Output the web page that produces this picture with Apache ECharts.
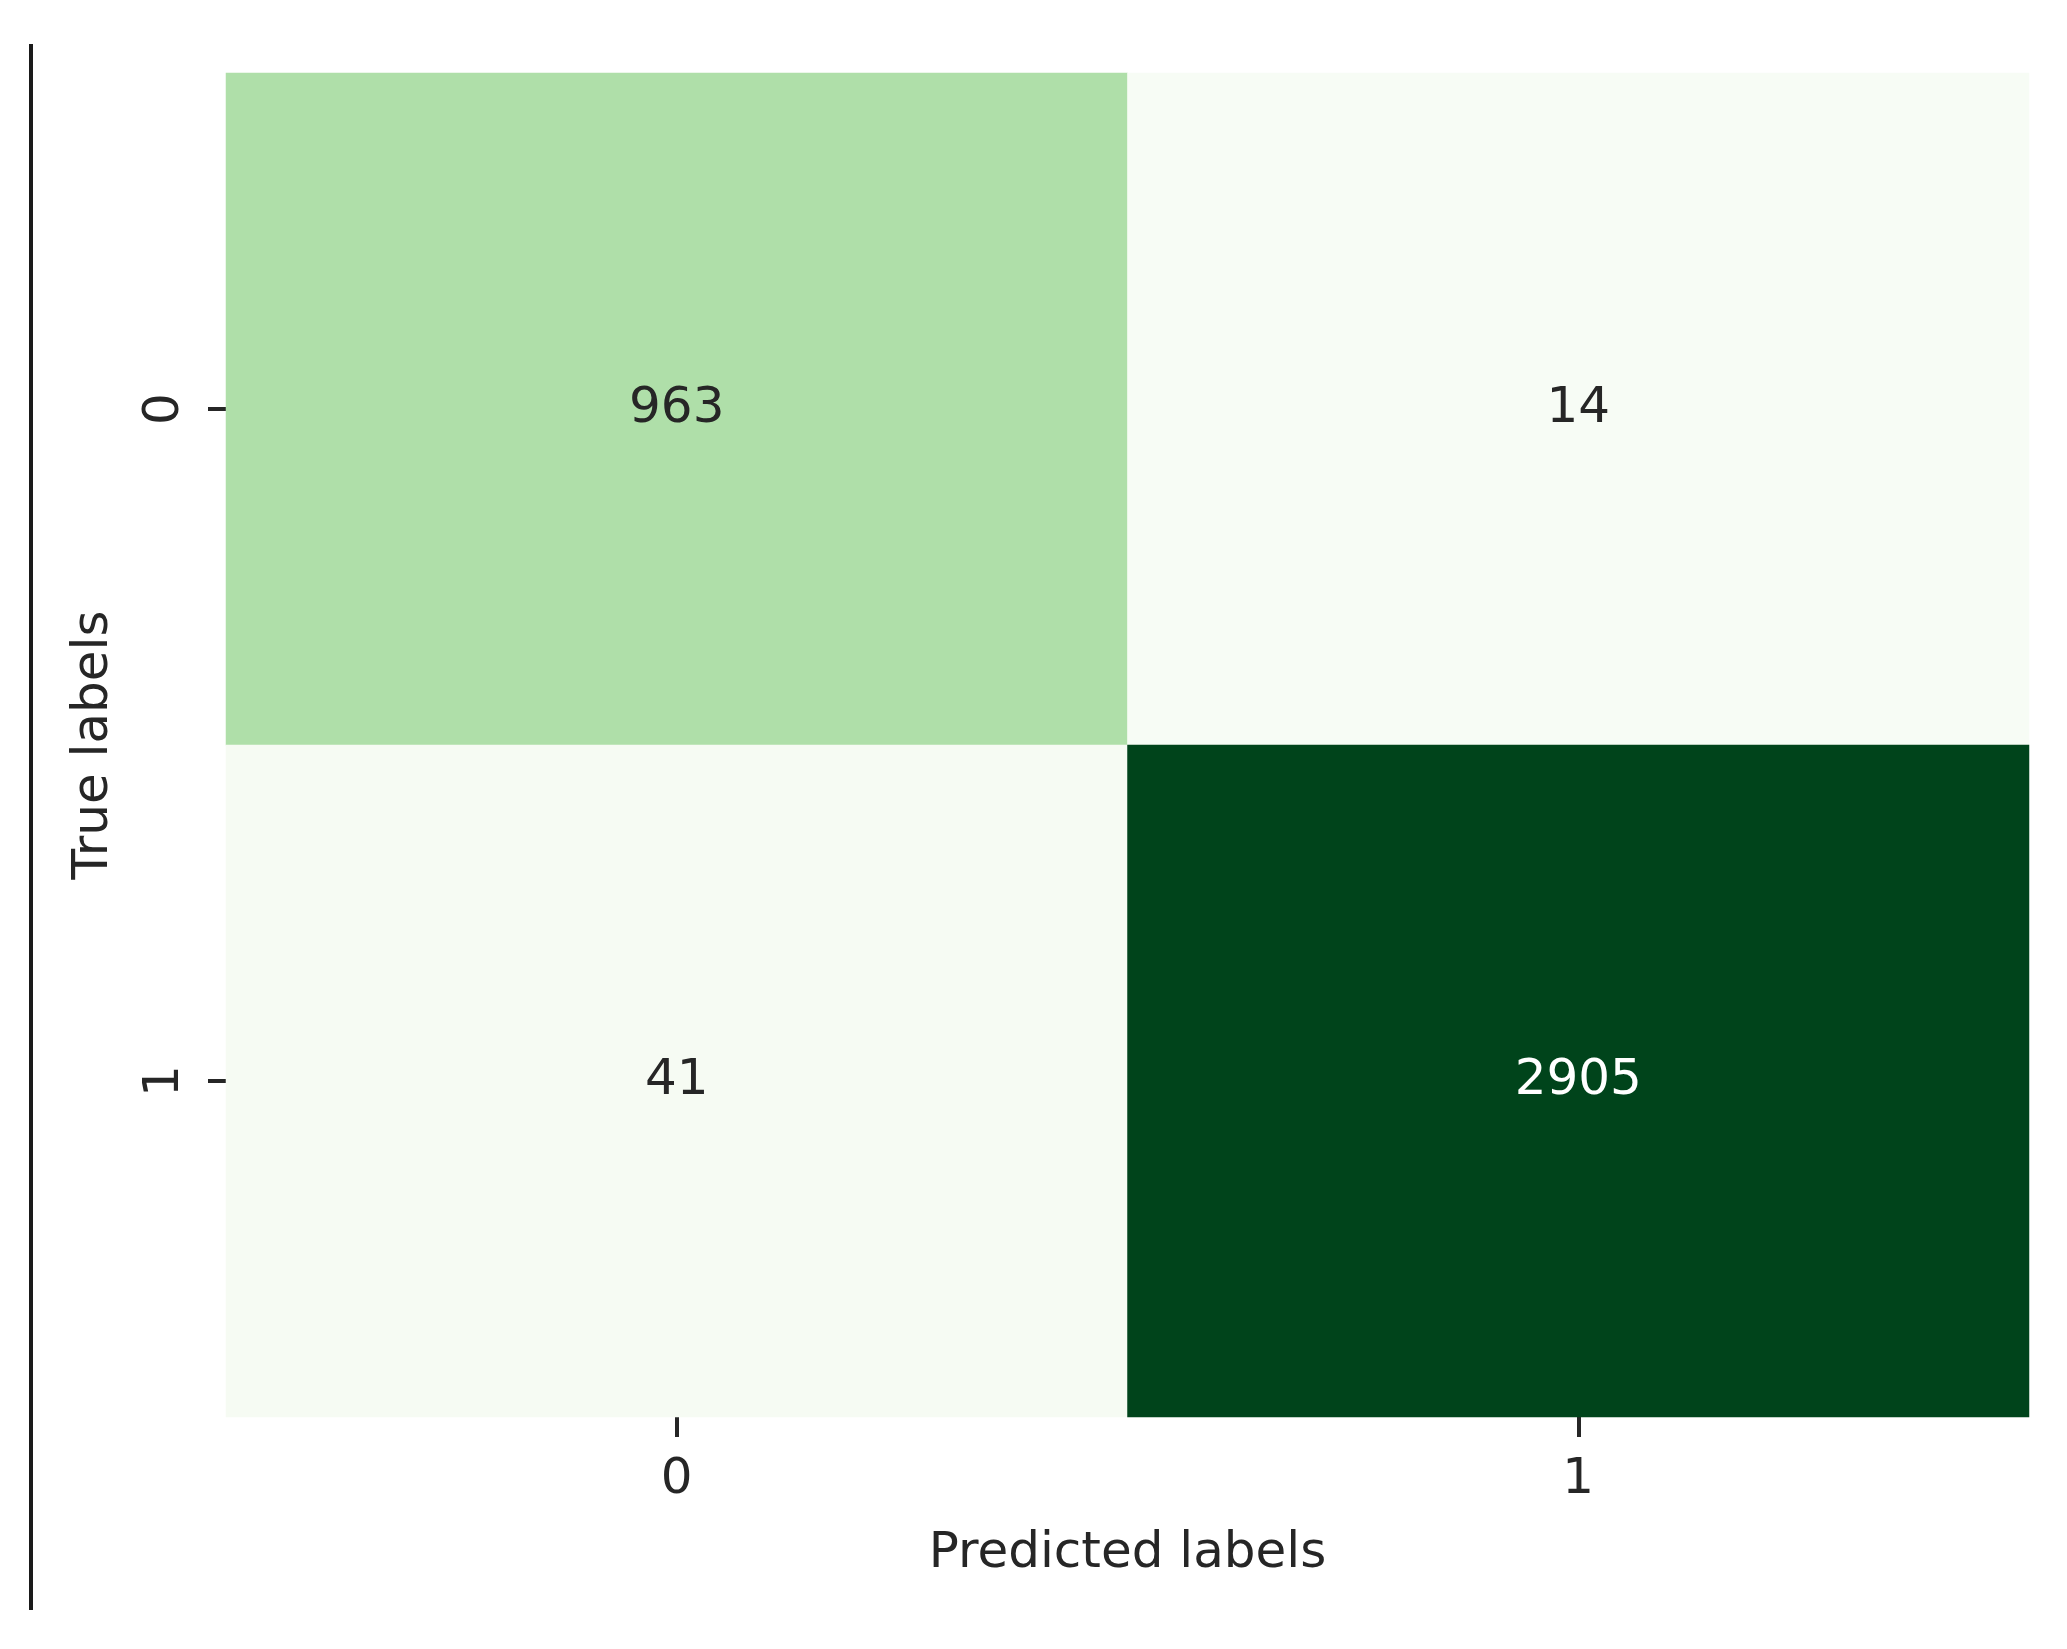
<!DOCTYPE html>
<html>
<head>
<meta charset="utf-8">
<script src="https://cdn.jsdelivr.net/npm/echarts@6/dist/echarts.min.js"></script>
<style>
  html, body { margin: 0; padding: 0; background: #ffffff; }
  #chart { width: 2067px; height: 1649px; }
</style>
</head>
<body>
<div id="chart"></div>
<script>
const predictedLabels = ['0', '1'];
const trueLabels = ['0', '1'];
// rows = true label, columns = predicted label
const row0 = [963, 14];
const row1 = [41, 2905];
const matrix = [row0, row1];
const greens = ['#f7fcf5', '#e5f5e0', '#c7e9c0', '#a1d99b', '#74c476', '#41ab5d', '#238b45', '#006d2c', '#00441b'];

const allVals = row0.concat(row1);
const vMin = Math.min.apply(null, allVals);
const vMax = Math.max.apply(null, allVals);

const data = [];
matrix.forEach(function (row, i) {
  row.forEach(function (v, j) {
    const frac = (v - vMin) / (vMax - vMin);
    data.push({
      value: [j, i, v],
      label: { color: frac > 0.6 ? '#ffffff' : '#262626' }
    });
  });
});

const FONT = 'DejaVu Sans';
const chart = echarts.init(document.getElementById('chart'), null, { renderer: 'canvas' });
chart.setOption({
  animation: false,
  backgroundColor: '#ffffff',
  grid: { left: 226, top: 73, width: 1803, height: 1344, containLabel: false },
  xAxis: {
    type: 'category',
    data: predictedLabels,
    name: 'Predicted labels',
    nameLocation: 'middle',
    nameGap: 112,
    nameTextStyle: { fontFamily: FONT, fontSize: 50, color: '#262626' },
    axisLine: { show: false },
    axisTick: { show: true, alignWithLabel: true, length: 20, lineStyle: { color: '#262626', width: 4 } },
    axisLabel: { fontFamily: FONT, fontSize: 50, color: '#262626', margin: 38 },
    splitLine: { show: false }
  },
  yAxis: {
    type: 'category',
    data: trueLabels,
    inverse: true,
    name: 'True labels',
    nameLocation: 'middle',
    nameGap: 107,
    nameRotate: 90,
    nameTextStyle: { fontFamily: FONT, fontSize: 50, color: '#262626' },
    axisLine: { show: false },
    axisTick: { show: true, alignWithLabel: true, length: 18, lineStyle: { color: '#262626', width: 4 } },
    axisLabel: { fontFamily: FONT, fontSize: 50, color: '#262626', rotate: 90, margin: 36 },
    splitLine: { show: false }
  },
  visualMap: {
    show: false,
    type: 'continuous',
    min: vMin,
    max: vMax,
    dimension: 2,
    inRange: { color: greens }
  },
  series: [{
    type: 'heatmap',
    data: data,
    label: { show: true, fontFamily: FONT, fontSize: 50 },
    itemStyle: { borderWidth: 0 },
    emphasis: { disabled: true }
  }],
  graphic: [{
    type: 'line',
    shape: { x1: 31, y1: 44, x2: 31, y2: 1610 },
    style: { stroke: '#1a1a1a', lineWidth: 4 }
  }]
});
</script>
</body>
</html>
